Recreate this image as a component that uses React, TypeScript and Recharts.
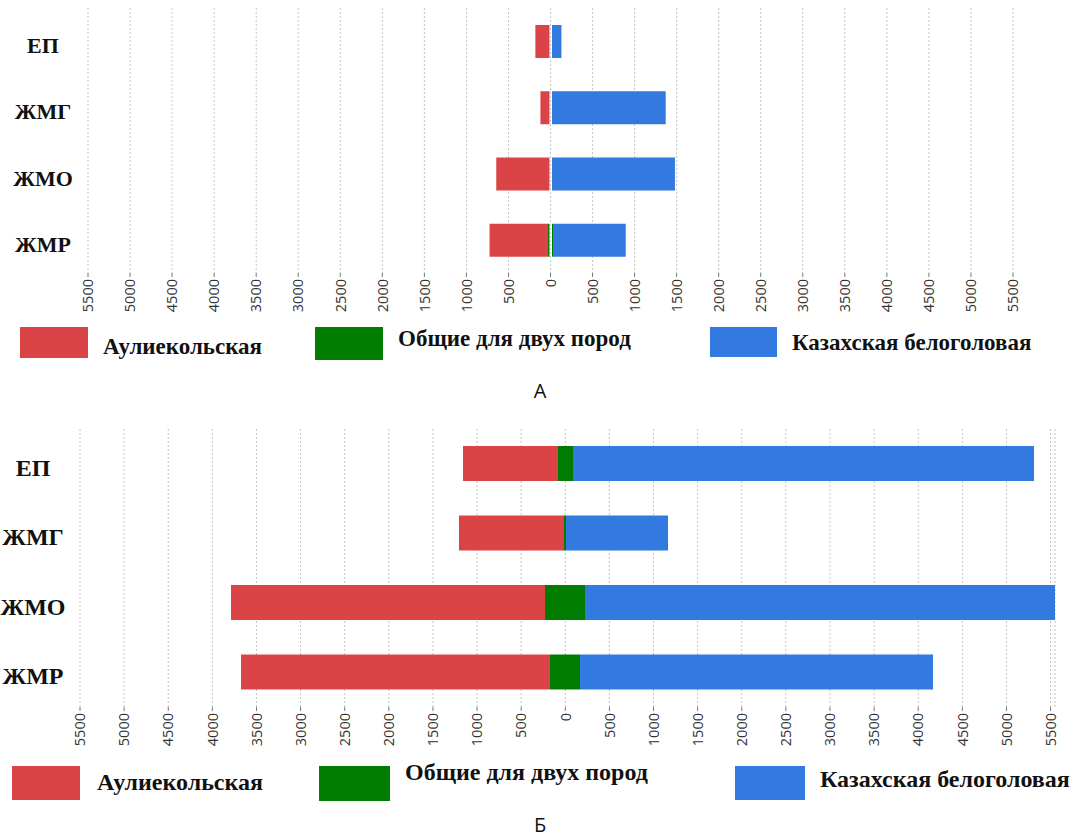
import React from 'react';
import {
  BarChart,
  Bar,
  XAxis,
  YAxis,
  CartesianGrid,
  Rectangle,
} from 'recharts';

// regions (rows, top to bottom)
const categories = ['ЕП', 'ЖМГ', 'ЖМО', 'ЖМР'];

// panel А
const aulA = [180, 120, 645, 695];
const commonA = [0, 0, 0, 60];
const kazA = [130, 1370, 1480, 865];

// panel Б
const aulB = [1075, 1190, 3560, 3500];
const commonB = [170, 20, 450, 340];
const kazB = [5225, 1155, 5325, 3995];

const xTicks = [
  -5500, -5000, -4500, -4000, -3500, -3000, -2500, -2000, -1500, -1000, -500, 0,
  500, 1000, 1500, 2000, 2500, 3000, 3500, 4000, 4500, 5000, 5500,
];

const seriesNames = ['Аулиекольская', 'Общие для двух пород', 'Казахская белоголовая'];
const RED = '#DB4447';
const GREEN = '#007C00';
const BLUE = '#3279E0';

const SERIF = '"Liberation Serif", "Times New Roman", serif';
const SANS = '"Open Sans", "DejaVu Sans", sans-serif';

const buildRows = (aul: number[], common: number[], kaz: number[]) =>
  categories.map((name, i) => ({
    name,
    commonL: -common[i] / 2,
    aul: -aul[i],
    commonR: common[i] / 2,
    kaz: kaz[i],
  }));

const ValueTick = (props: any) => {
  const { x, y, payload } = props;
  return (
    <g transform={`translate(${x},${y})`}>
      <text
        transform="rotate(-90)"
        x={0}
        y={0}
        dy="0.36em"
        textAnchor="end"
        fontFamily={SANS}
        fontSize={14.5}
        fill="#333"
      >
        {Math.abs(payload.value)}
      </text>
    </g>
  );
};

interface PanelProps {
  rows: any[];
  top: number;
  height: number;
  yAxisWidth: number;
  right: number;
  barSize: number;
  labelX: number;
  labelSize: number;
  zeroGap: boolean;
}

const Panel = ({ rows, top, height, yAxisWidth, right, barSize, labelX, labelSize, zeroGap }: PanelProps) => {
  const plotW = 1077 - yAxisWidth - right;
  const zeroX = yAxisWidth + plotW / 2;

  // panel А has a thin white gap at zero between the two sides
  const GapBar = (p: any) => {
    let left = Math.min(p.x, p.x + p.width);
    let rightEdge = Math.max(p.x, p.x + p.width);
    if (rightEdge - left < 0.5) return <g />;
    if (zeroGap) {
      if (Math.abs(rightEdge - zeroX) < 1) rightEdge -= 1;
      if (Math.abs(left - zeroX) < 1) left += 1.5;
    } else {
      left = Math.round(left);
      rightEdge = Math.round(rightEdge);
    }
    return <Rectangle {...p} x={left} width={Math.max(0, rightEdge - left)} />;
  };

  return (
    <div style={{ position: 'absolute', left: 0, top }}>
      <BarChart
        width={1077}
        height={height}
        data={rows}
        layout="vertical"
        stackOffset="sign"
        barSize={barSize}
        margin={{ top: 8, right, bottom: 0, left: 0 }}
      >
        <CartesianGrid horizontal={false} stroke="#c4c4c4" strokeDasharray="2 2" />
        <XAxis
          type="number"
          domain={[-5500, 5500]}
          ticks={xTicks}
          interval={0}
          axisLine={false}
          tickSize={4}
          tickMargin={2}
          tickLine={{ stroke: '#777' }}
          height={46}
          tick={(p: any) => <ValueTick {...p} />}
        />
        <YAxis
          type="category"
          dataKey="name"
          width={yAxisWidth}
          axisLine={false}
          tickLine={false}
          tick={(p: any) => (
            <text
              x={labelX}
              y={p.y}
              dy={12}
              textAnchor="middle"
              fontFamily={SERIF}
              fontWeight="bold"
              fontSize={labelSize}
              fill="#111"
            >
              {p.payload.value}
            </text>
          )}
        />
        <Bar dataKey="commonL" stackId="s" fill={GREEN} shape={<GapBar />} isAnimationActive={false} />
        <Bar dataKey="aul" stackId="s" fill={RED} shape={<GapBar />} isAnimationActive={false} />
        <Bar dataKey="commonR" stackId="s" fill={GREEN} shape={<GapBar />} isAnimationActive={false} />
        <Bar dataKey="kaz" stackId="s" fill={BLUE} shape={<GapBar />} isAnimationActive={false} />
      </BarChart>
    </div>
  );
};

interface LegendItem {
  left: number;
  top: number;
  w: number;
  h: number;
  textLeft: number;
  textTop: number;
}

const Legend = ({ items, fontSize }: { items: LegendItem[]; fontSize: number }) => {
  const colors = [RED, GREEN, BLUE];
  return (
    <>
      {items.map((it, i) => (
        <React.Fragment key={i}>
          <div
            style={{
              position: 'absolute',
              left: it.left,
              top: it.top,
              width: it.w,
              height: it.h,
              background: colors[i],
            }}
          />
          <div
            style={{
              position: 'absolute',
              left: it.textLeft,
              top: it.textTop,
              fontFamily: SERIF,
              fontWeight: 'bold',
              fontSize,
              color: '#111',
              whiteSpace: 'nowrap',
              lineHeight: 1,
            }}
          >
            {seriesNames[i]}
          </div>
        </React.Fragment>
      ))}
    </>
  );
};

const legendA: LegendItem[] = [
  { left: 20, top: 327, w: 68, h: 31, textLeft: 103, textTop: 335 },
  { left: 315, top: 327, w: 68, h: 33, textLeft: 398, textTop: 327 },
  { left: 710, top: 327, w: 67, h: 30, textLeft: 792, textTop: 331 },
];

const legendB: LegendItem[] = [
  { left: 12, top: 766, w: 68, h: 34, textLeft: 97, textTop: 770 },
  { left: 319, top: 766, w: 71, h: 35, textLeft: 405, textTop: 760 },
  { left: 735, top: 766, w: 70, h: 34, textLeft: 820, textTop: 767 },
];

const captionStyle: React.CSSProperties = {
  position: 'absolute',
  left: 525,
  width: 30,
  textAlign: 'center',
  fontFamily: SANS,
  fontSize: 20,
  lineHeight: 1,
  color: '#111',
};

export default function App() {
  const rowsA = buildRows(aulA, commonA, kazA);
  const rowsB = buildRows(aulB, commonB, kazB);
  return (
    <div style={{ position: 'absolute', left: 0, top: 0, width: 1077, height: 839, background: '#fff', overflow: 'hidden' }}>
      <Panel
        rows={rowsA}
        top={0}
        height={8 + 265 + 46}
        yAxisWidth={88}
        right={64}
        barSize={33}
        labelX={43}
        labelSize={22}
        zeroGap
      />
      <Legend items={legendA} fontSize={23} />
      <div style={{ ...captionStyle, top: 381 }}>А</div>

      <Panel
        rows={rowsB}
        top={421}
        height={8 + 278 + 46}
        yAxisWidth={80}
        right={22}
        barSize={35}
        labelX={33}
        labelSize={24}
        zeroGap={false}
      />
      <Legend items={legendB} fontSize={24} />
      <div style={{ ...captionStyle, top: 815 }}>Б</div>
    </div>
  );
}
